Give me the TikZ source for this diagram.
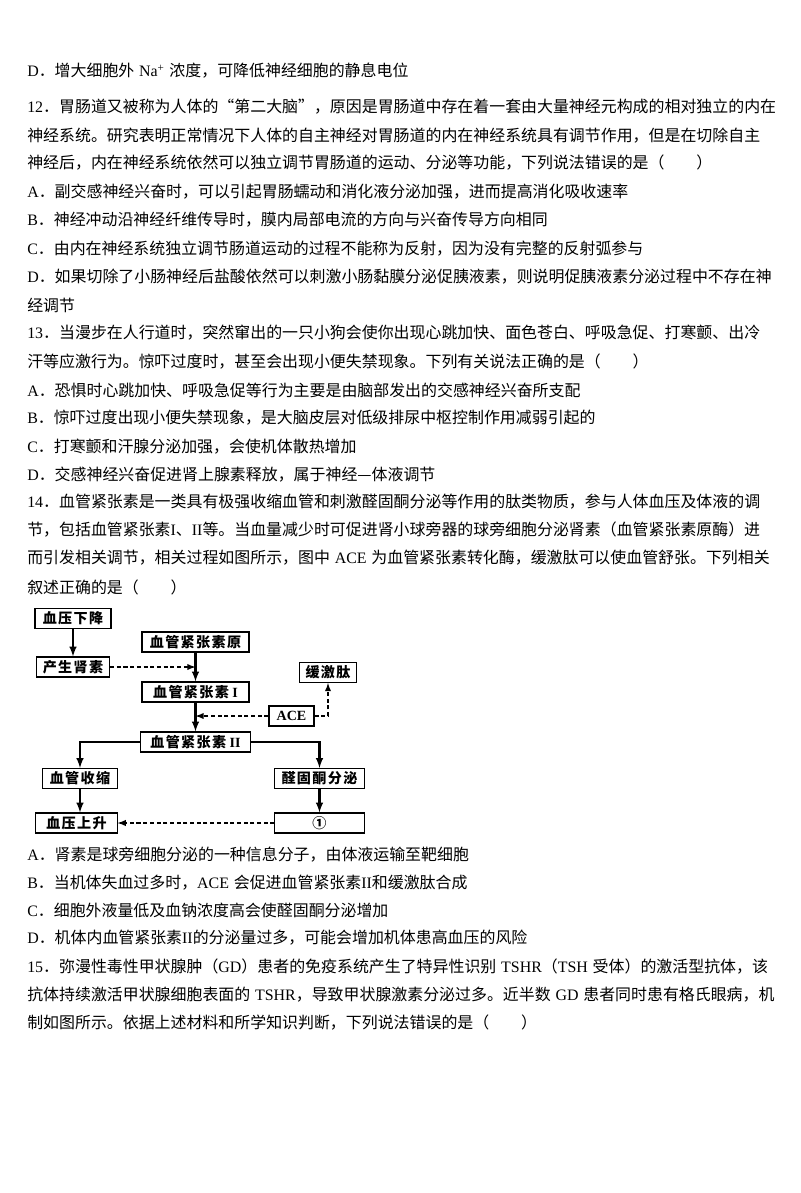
\documentclass[tikz,border=0pt]{standalone}
\usepackage{fontspec}
\setmainfont{Liberation Serif}
\newfontfamily\cjk{Noto Sans CJK SC}
\newfontfamily\cjkbox{Noto Sans CJK SC}[LetterSpace=10]
\usetikzlibrary{arrows}
% Chinese in Noto Sans CJK SC, the rest in Liberation Serif
\XeTeXinterchartokenstate=1
\newXeTeXintercharclass\cjkcls
\newcount\cjkc
\def\cjkrange#1#2{\cjkc=#1 \loop\XeTeXcharclass\cjkc=\cjkcls\ifnum\cjkc<#2 \advance\cjkc by 1 \repeat}
\cjkrange{"2E80}{"9FFF}
\cjkrange{"FF00}{"FFEF}
\cjkrange{"2460}{"2473}
\XeTeXcharclass"201C=\cjkcls
\XeTeXcharclass"201D=\cjkcls
\XeTeXcharclass"2014=\cjkcls
\def\cjkfont{\cjk}
\XeTeXinterchartoks 0 \cjkcls = {\cjkfont}
\XeTeXinterchartoks 4095 \cjkcls = {\cjkfont}
\XeTeXinterchartoks \cjkcls 0 = {\rmfamily}
\XeTeXinterchartoks \cjkcls 4095 = {\rmfamily}
\newcommand{\gap}{\kern0.3em}

\begin{document}
\begin{tikzpicture}[>=latex,x=0.2625mm,y=-0.2625mm,
	txt/.style={anchor=west,inner sep=0pt,font=\fontsize{11.9pt}{14pt}\selectfont},
	box/.style={draw,line width=0.8pt,fill=white,inner sep=0pt,minimum height=5.25mm,font=\let\cjkfont\cjkbox\fontsize{10.5pt}{13pt}\selectfont\bfseries},
	flow/.style={->,line width=1.5pt},
	feed/.style={->,line width=1.1pt,dash pattern=on 3pt off 2pt}]
		\useasboundingbox (0,0) rectangle (800,1193);
		%11
		\node [txt] (q11d) at (27,71) {D．增大细胞外\gap Na\textsuperscript{+}\gap 浓度，可降低神经细胞的静息电位};
		%12
		\node [txt] (q12a) at (27,107) {12．胃肠道又被称为人体的“第二大脑”，原因是胃肠道中存在着一套由大量神经元构成的相对独立的内在};
		\node [txt] (q12b) at (27,136) {神经系统。研究表明正常情况下人体的自主神经对胃肠道的内在神经系统具有调节作用，但是在切除自主};
		\node [txt] (q12c) at (27,163) {神经后，内在神经系统依然可以独立调节胃肠道的运动、分泌等功能，下列说法错误的是（　　）};
		\node [txt] (q12oa) at (27,192) {A．副交感神经兴奋时，可以引起胃肠蠕动和消化液分泌加强，进而提高消化吸收速率};
		\node [txt] (q12ob) at (27,220) {B．神经冲动沿神经纤维传导时，膜内局部电流的方向与兴奋传导方向相同};
		\node [txt] (q12oc) at (27,249) {C．由内在神经系统独立调节肠道运动的过程不能称为反射，因为没有完整的反射弧参与};
		\node [txt] (q12od) at (27,277) {D．如果切除了小肠神经后盐酸依然可以刺激小肠黏膜分泌促胰液素，则说明促胰液素分泌过程中不存在神};
		\node [txt] (q12oe) at (27,305) {经调节};
		%13
		\node [txt] (q13a) at (27,333) {13．当漫步在人行道时，突然窜出的一只小狗会使你出现心跳加快、面色苍白、呼吸急促、打寒颤、出冷};
		\node [txt] (q13b) at (27,362) {汗等应激行为。惊吓过度时，甚至会出现小便失禁现象。下列有关说法正确的是（　　）};
		\node [txt] (q13oa) at (27,390) {A．恐惧时心跳加快、呼吸急促等行为主要是由脑部发出的交感神经兴奋所支配};
		\node [txt] (q13ob) at (27,418) {B．惊吓过度出现小便失禁现象，是大脑皮层对低级排尿中枢控制作用减弱引起的};
		\node [txt] (q13oc) at (27,447) {C．打寒颤和汗腺分泌加强，会使机体散热增加};
		\node [txt] (q13od) at (27,475) {D．交感神经兴奋促进肾上腺素释放，属于神经—体液调节};
		%14
		\node [txt] (q14a) at (27,502) {14．血管紧张素是一类具有极强收缩血管和刺激醛固酮分泌等作用的肽类物质，参与人体血压及体液的调};
		\node [txt] (q14b) at (27,530) {节，包括血管紧张素I、II等。当血量减少时可促进肾小球旁器的球旁细胞分泌肾素（血管紧张素原酶）进};
		\node [txt] (q14c) at (27,558) {而引发相关调节，相关过程如图所示，图中\gap ACE\gap 为血管紧张素转化酶，缓激肽可以使血管舒张。下列相关};
		\node [txt] (q14d) at (27,587) {叙述正确的是（　　）};
		%diagram
		\node [box, minimum width=19.95mm] (low) at (73,618.5) {血压下降};
		\node [box, minimum width=19.2mm] (renin) at (73,667) {产生肾素};
		\node [box, minimum width=28.1mm] (agt) at (195.5,642) {血管紧张素原};
		\node [box, minimum width=28.1mm] (angI) at (195.5,692) {血管紧张素 I};
		\node [box, minimum width=15.2mm] (brady) at (328,672.5) {缓激肽};
		\node [box, minimum width=11.8mm] (ace) at (291.5,716) {ACE};
		\node [box, minimum width=28.9mm] (angII) at (195.5,742) {血管紧张素 II};
		\node [box, minimum width=19.7mm] (vaso) at (80,778.5) {血管收缩};
		\node [box, minimum width=23.4mm] (ald) at (319.5,778.5) {醛固酮分泌};
		\node [box, minimum width=21.3mm] (rise) at (76.5,823) {血压上升};
		\node [box, minimum width=23.4mm] (one) at (319.5,823) {①};
		\draw [flow] (low) -- (renin);
		\draw [flow] (agt) -- (angI);
		\draw [flow] (angI) -- (angII);
		\draw [feed] (renin) -- (renin -| agt);
		\draw [feed] (ace) -- (ace -| angI);
		\draw [feed] (ace) -| (brady);
		\draw [flow] (angII) -| (vaso);
		\draw [flow] (angII) -| (ald);
		\draw [flow] (vaso.south) -- (vaso.south |- rise.north);
		\draw [flow] (ald) -- (one);
		\draw [feed] (one) -- (rise);
		%14 options
		\node [txt] (q14oa) at (27,855) {A．肾素是球旁细胞分泌的一种信息分子，由体液运输至靶细胞};
		\node [txt] (q14ob) at (27,883) {B．当机体失血过多时，ACE\gap 会促进血管紧张素II和缓激肽合成};
		\node [txt] (q14oc) at (27,910) {C．细胞外液量低及血钠浓度高会使醛固酮分泌增加};
		\node [txt] (q14od) at (27,938) {D．机体内血管紧张素II的分泌量过多，可能会增加机体患高血压的风险};
		%15
		\node [txt] (q15a) at (27,967) {15．弥漫性毒性甲状腺肿（GD）患者的免疫系统产生了特异性识别\gap TSHR（TSH\gap 受体）的激活型抗体，该};
		\node [txt] (q15b) at (27,995) {抗体持续激活甲状腺细胞表面的\gap TSHR，导致甲状腺激素分泌过多。近半数\gap GD\gap 患者同时患有格氏眼病，机};
		\node [txt] (q15c) at (27,1023) {制如图所示。依据上述材料和所学知识判断，下列说法错误的是（　　）};
\end{tikzpicture}
\end{document}
